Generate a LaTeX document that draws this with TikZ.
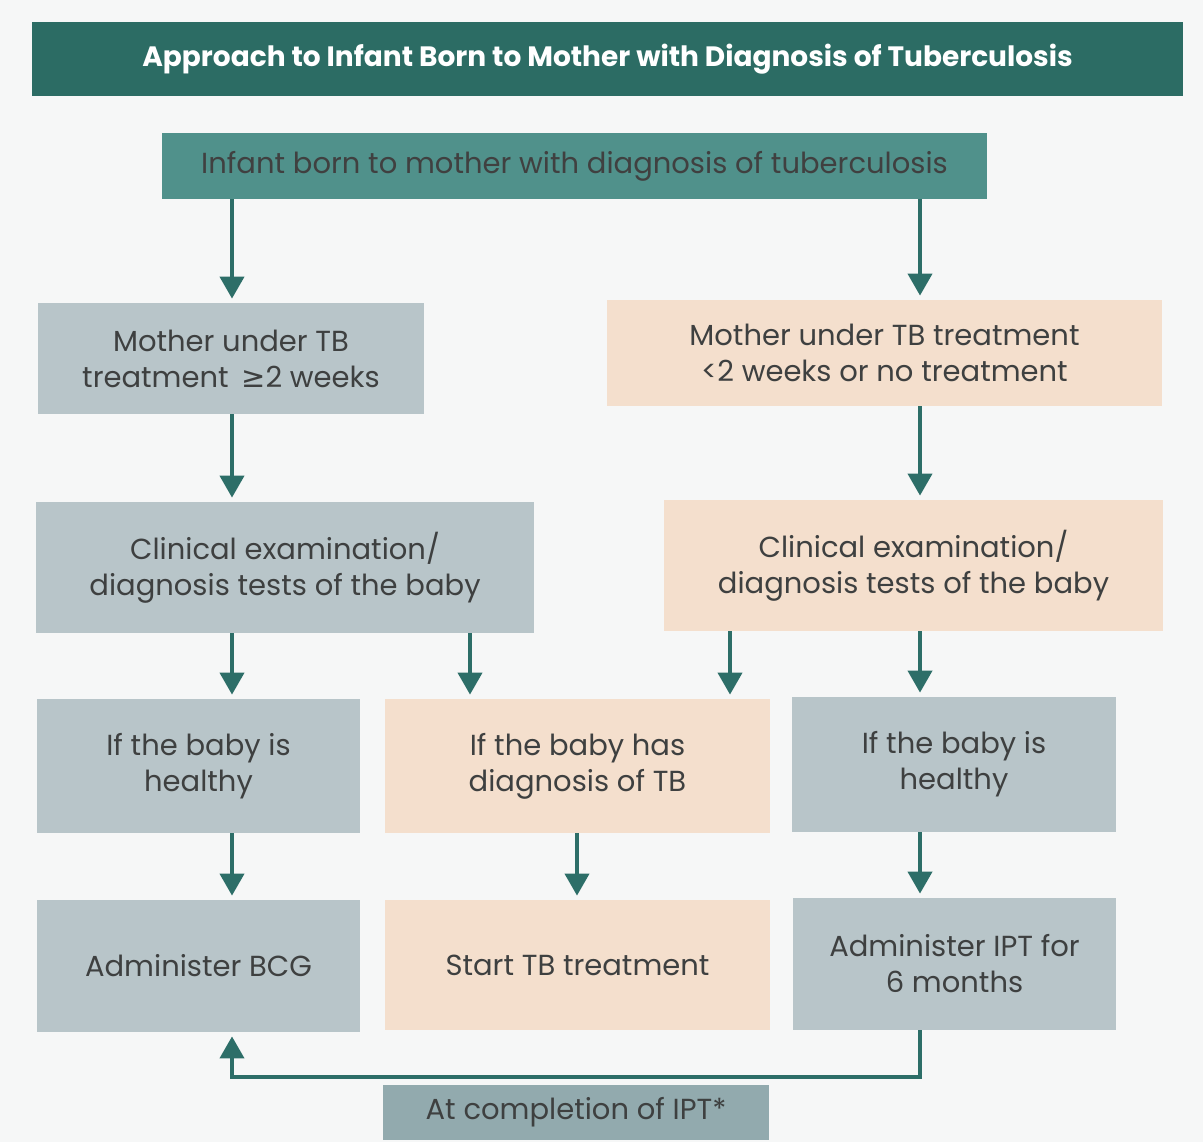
\documentclass[tikz,border=0pt]{standalone}
\usepackage{fontspec}
\setmainfont{Poppins}
\newfontfamily\symfont{DejaVu Sans}
\usepackage{xcolor}
\usepackage{tikz}
\usetikzlibrary{arrows.meta, positioning, calc}
\definecolor{titleteal}{RGB}{44, 108, 100}
\definecolor{topteal}{RGB}{80, 145, 139}
\definecolor{arrowteal}{RGB}{45, 110, 104}
\definecolor{greyblue}{RGB}{184, 197, 201}
\definecolor{peach}{RGB}{244, 223, 205}
\definecolor{labelgrey}{RGB}{146, 170, 174}
\definecolor{paper}{RGB}{246, 247, 247}
\definecolor{inkgrey}{RGB}{62, 64, 64}

\tikzset{
  box/.style={rectangle, inner sep=0pt, align=center, text=inkgrey,
    font=\fontsize{14.5}{18}\selectfont},
  bluebox/.style={box, fill=greyblue},
  peachbox/.style={box, fill=peach},
  arr/.style={-{Triangle[width=12pt, length=11pt]}, line width=2pt, arrowteal, shorten >=2pt}
}

\begin{document}
\begin{tikzpicture}[x=0.5pt, y=-0.5pt]

  \fill[paper] (0,0) rectangle (1203,1142);
  \useasboundingbox (0,0) rectangle (1203,1142);

  \node[box, fill=titleteal, text=white, minimum width=575.5pt, minimum height=37pt,
    font=\fontsize{14}{16}\selectfont\bfseries] (title) at (607.5,59)
    {Approach to Infant Born to Mother with Diagnosis of Tuberculosis};

  \node[box, fill=topteal, text=black!75, minimum width=412.5pt, minimum height=33pt] (infant) at (574.5,166)
    {Infant born to mother with diagnosis of tuberculosis};

  % mother under treatment
  \node[bluebox, minimum width=193pt, minimum height=55.5pt] (motherL) at (231,358.5)
    {Mother under TB\\treatment \,{\symfont ≥}2 weeks};
  \node[peachbox, minimum width=277.5pt, minimum height=53pt] (motherR) at (884.5,353)
    {Mother under TB treatment\\<2 weeks or no treatment};

  % clinical examination
  \node[bluebox, minimum width=249pt, minimum height=65.5pt] (clinL) at (285,567.5)
    {Clinical examination/\\diagnosis tests of the baby};
  \node[peachbox, minimum width=249.5pt, minimum height=65.5pt] (clinR) at (913.5,565.5)
    {Clinical examination/\\diagnosis tests of the baby};

  % baby status
  \node[bluebox, minimum width=161.5pt, minimum height=67pt] (healthyL) at (198.5,766)
    {If the baby is\\healthy};
  \node[peachbox, minimum width=192.5pt, minimum height=67pt] (hasTB) at (577.5,766)
    {If the baby has\\diagnosis of TB};
  \node[bluebox, minimum width=162pt, minimum height=67.5pt] (healthyR) at (954,764.5)
    {If the baby is\\healthy};

  % actions
  \node[bluebox, minimum width=161.5pt, minimum height=66pt] (bcg) at (198.5,966)
    {Administer BCG};
  \node[peachbox, minimum width=192.5pt, minimum height=65pt] (treat) at (577.5,965)
    {Start TB treatment};
  \node[bluebox, minimum width=161.5pt, minimum height=66pt] (ipt) at (954.5,964)
    {Administer IPT for\\6 months};

  \node[box, fill=labelgrey, minimum width=193pt, minimum height=27.5pt] (done) at (576,1112.5)
    {At completion of IPT*};

  \coordinate (colL) at (232,0);
  \coordinate (colM) at (470,0);
  \coordinate (colN) at (577,0);
  \coordinate (colO) at (730,0);
  \coordinate (colR) at (920,0);
  \coordinate (loop) at (0,1077);

  \foreach \from/\to/\col in {infant/motherL/colL, infant/motherR/colR,
      motherL/clinL/colL, motherR/clinR/colR,
      clinL/healthyL/colL, clinL/hasTB/colM, clinR/hasTB/colO, clinR/healthyR/colR,
      healthyL/bcg/colL, hasTB/treat/colN, healthyR/ipt/colR} {
    \draw[arr] (\from.south -| \col) -- (\to.north -| \col);
  }

  \draw[arr] (ipt.south -| colR) -- (loop -| colR) -- (loop -| colL) -- (bcg.south -| colL);

\end{tikzpicture}
\end{document}
